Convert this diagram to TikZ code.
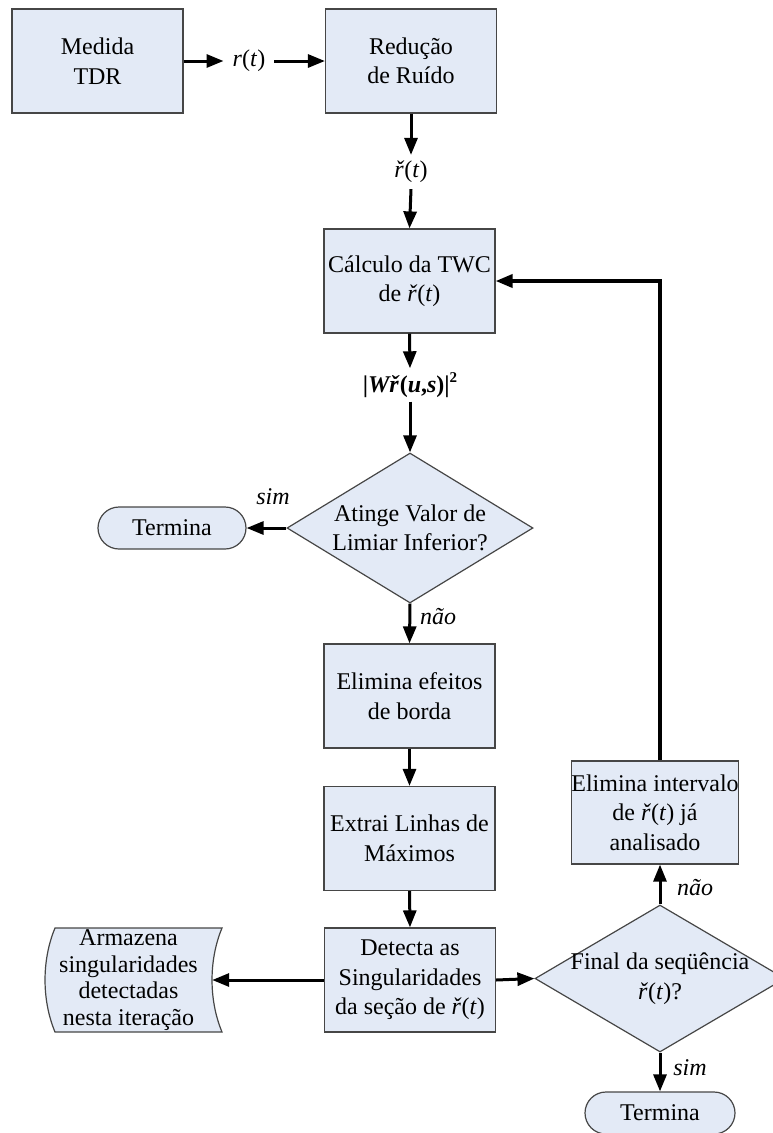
\documentclass[tikz,border=0pt]{standalone}
\usepackage{fontspec}
\setmainfont{Liberation Serif}
\usetikzlibrary{shapes.geometric,arrows.meta}
\definecolor{boxfill}{RGB}{227,234,246}
\definecolor{boxline}{RGB}{70,70,70}
\newcommand{\rch}{\textit{ř}(\textit{t})}
\begin{document}
\begin{tikzpicture}[x=1pt,y=-1pt,
  font=\fontsize{24}{29.5}\selectfont,
  proc/.style={draw=boxline, line width=1.2pt, fill=boxfill, minimum width=171pt, minimum height=104pt, inner sep=0pt, align=center},
  dec/.style={draw=boxline, line width=1.2pt, fill=boxfill, shape=diamond, inner sep=-5pt, align=center},
  term/.style={draw=boxline, line width=1.2pt, fill=boxfill, rounded corners=21pt, minimum width=148pt, minimum height=42pt, inner sep=0pt},
  lbl/.style={inner sep=4pt},
  yn/.style={inner sep=0pt, font=\fontsize{24}{29}\selectfont\itshape},
  arr/.style={line width=3pt, -{Triangle[length=17pt,width=13pt]}},
  ]
\useasboundingbox (0,0) rectangle (772,1133);
% process boxes
\node[proc] (med) at (97.5,61) {Medida\\TDR};
\node[proc] (red) at (411,61) {Redução\\de Ruído};
\node[proc] (calc) at (409.5,281) {Cálculo da TWC\\de \rch};
\node[proc] (elim) at (409.5,696) {Elimina efeitos\\de borda};
\node[proc] (extr) at (409.5,838.5) {Extrai Linhas de\\Máximos};
\node[proc] (det) at (410,980) {Detecta as\\Singularidades\\da seção de \rch};
\node[proc, minimum width=164pt, minimum height=103pt] (elint) at (655,812.5) {Elimina intervalo\\de \rch{} já\\analisado};
% decisions
\node[dec, minimum width=246pt, minimum height=150pt, aspect=1.64] (dia1) at (410,528) {Atinge Valor de\\Limiar Inferior?};
\node[dec, minimum width=250pt, minimum height=147pt, aspect=1.7] (dia2) at (660,978.5) {Final da seqüência\\\rch?};
% terminals
\node[term] (term1) at (172,528) {Termina};
\node[term, minimum width=150pt] (term2) at (660,1113) {Termina};
% stored data
\draw[draw=boxline, line width=1.2pt, fill=boxfill]
  (55,928) -- (222,928) .. controls (208.7,960) and (208.7,1000) .. (222,1032)
  -- (55,1032) .. controls (41.7,1000) and (41.7,960) .. (55,928) -- cycle;
\node[inner sep=0pt, minimum width=167pt, minimum height=104pt, align=center,
  font=\fontsize{24}{26.5}\selectfont] (store) at (128.5,980)
  {Armazena\\singularidades\\detectadas\\nesta iteração};
% labels
\node[lbl, inner sep=9pt] (rt) at (249,61) {\textit{r}(\textit{t})};
\node[lbl, inner sep=6pt] (rct) at (411,172) {\rch};
\node[lbl] (w) at (410,385) {\textbf{|\textit{Wř}(\textit{u},\textit{s})|\raisebox{0.9ex}{\fontsize{15}{15}\selectfont 2}}};
% connectors
\draw[arr] (med.east) -- (rt.west);
\draw[arr] (rt.east) -- (red.west);
\draw[arr] (red.south) -- (rct.north);
\draw[arr] (rct.south) -- (calc.north);
\draw[arr] (calc.south) -- (w.north);
\draw[arr] (w.south) -- (dia1.north);
\draw[arr] (dia1.west) -- (term1.east);
\draw[arr] (dia1.south) -- (elim.north);
\draw[arr] (elim.south) -- (extr.north);
\draw[arr] (extr.south) -- (det.north);
\draw[arr] (det.west) -- (store.east);
\draw[arr] (det.east) -- (dia2.west);
\draw[arr] (dia2.north) -- (dia2.north |- elint.south);
\draw[arr] (dia2.south) -- (term2.north);
\draw[arr, line width=3.6pt] (dia2.north |- elint.north) |- (calc.east);
% yes / no labels
\node[yn] (sim1) at (273,497) {sim};
\node[yn] (nao1) at (438,617) {não};
\node[yn] (nao2) at (695,888) {não};
\node[yn] (sim2) at (690,1068) {sim};
\end{tikzpicture}
\end{document}
